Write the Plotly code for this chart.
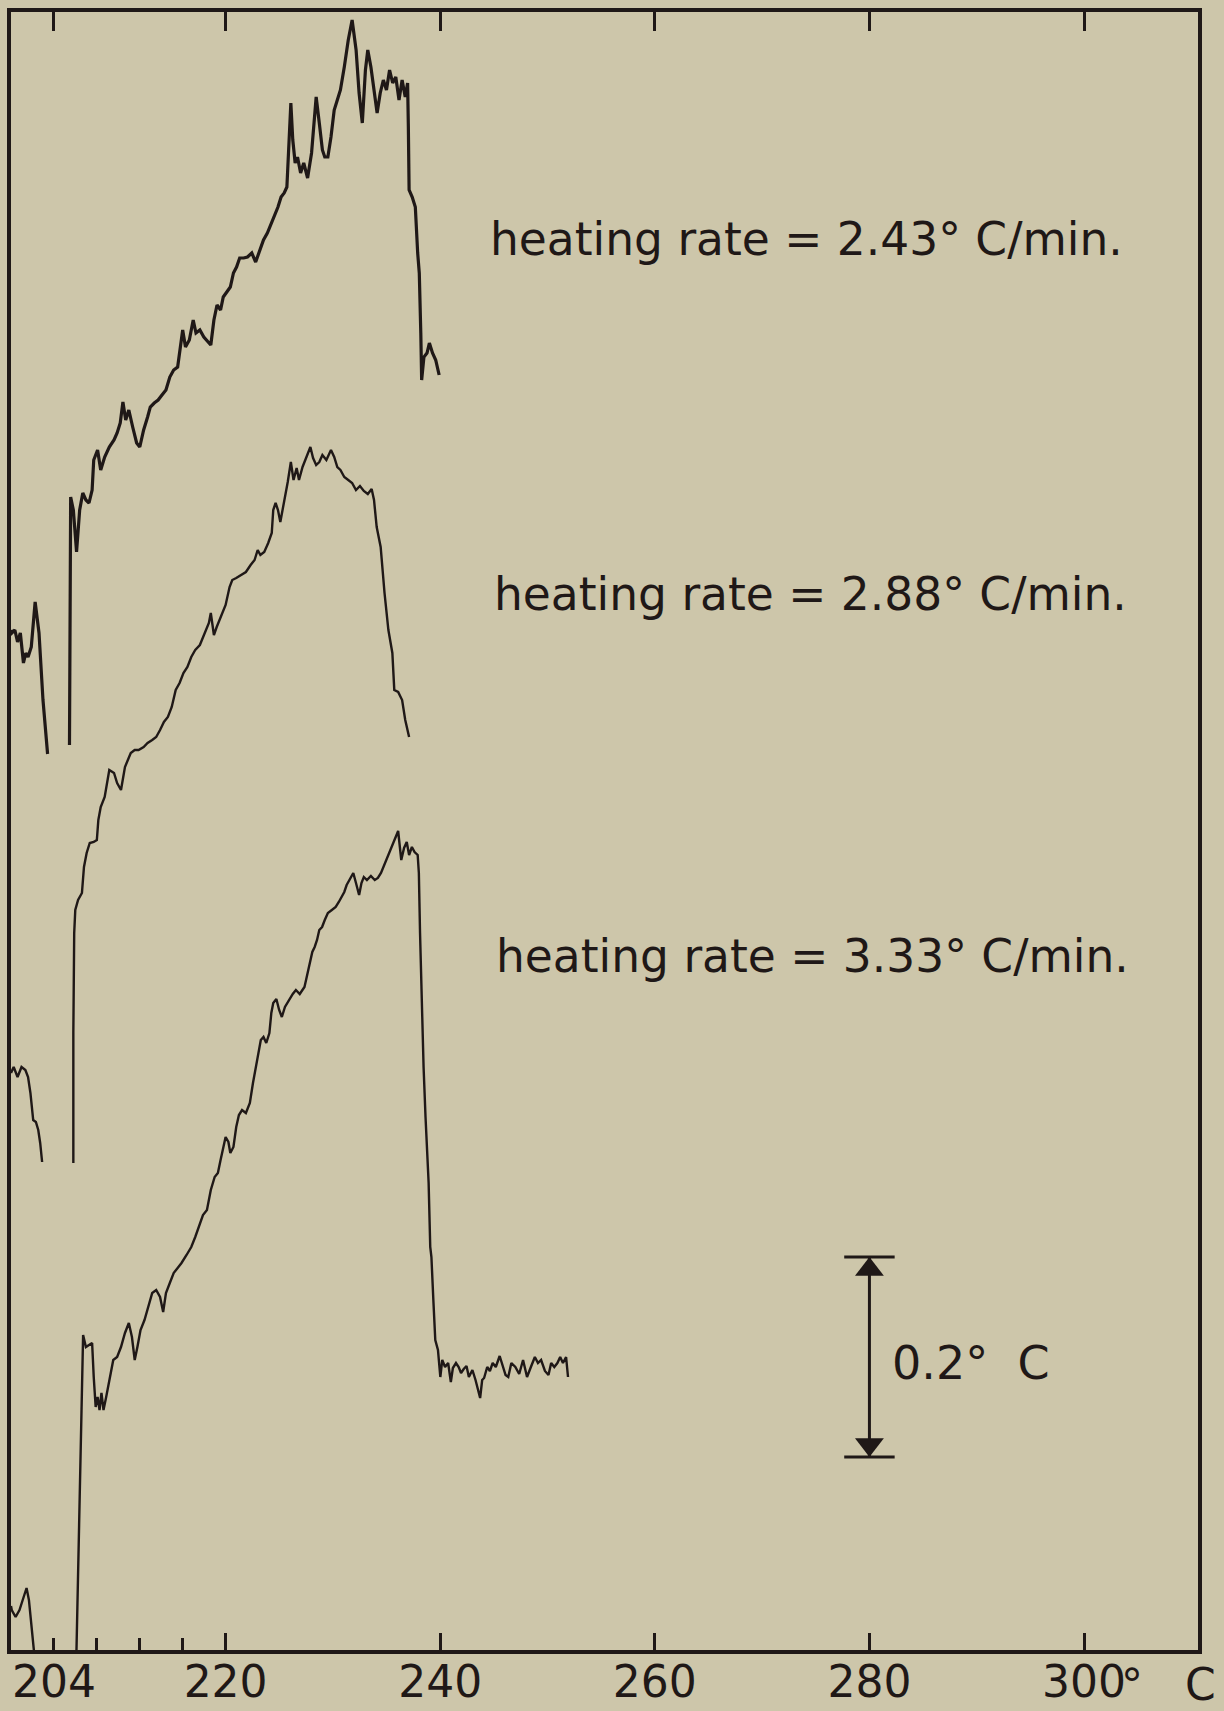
import plotly.graph_objects as go

# ---------------- data (temperature in deg C, differential temperature in deg C, offset traces) -------------
rate_243_x = [200.0, 200.07, 200.36, 200.61, 200.87, 201.16, 201.38, 201.59, 201.89, 202.25, 202.61, 202.98, 203.41, None,
              205.45, 205.56, 205.81, 206.11, 206.40, 206.69, 206.98, 207.27, 207.56, 207.71, 208.07, 208.36, 208.73,
              209.16, 209.60, 209.89, 210.18, 210.43, 210.69, 210.98, 211.34, 211.71, 212.00, 212.36, 212.73, 212.98,
              213.35, 213.71, 214.07, 214.44, 214.80, 215.16, 215.53, 215.78, 216.00, 216.26, 216.62, 216.98, 217.24,
              217.60, 217.97, 218.62, 218.91, 219.20, 219.53, 219.78, 220.08, 220.44, 220.73, 221.02, 221.31, 221.68,
              222.04, 222.44, 222.80, 223.17, 223.53, 223.89, 224.26, 224.62, 224.88, 225.17, 225.46, 225.71, 225.90,
              226.08, 226.26, 226.48, 226.70, 226.99, 227.28, 227.64, 228.01, 228.26, 228.44, 228.73, 229.02, 229.24,
              229.53, 229.82, 230.12, 230.41, 230.70, 231.06, 231.43, 231.79, 232.16, 232.44, 232.74, 233.03, 233.25,
              233.54, 233.83, 234.12, 234.41, 234.70, 234.99, 235.28, 235.57, 235.86, 236.16, 236.45, 236.74, 236.96,
              237.03, 237.10, 237.39, 237.68, 237.90, 238.05, 238.19, 238.27, 238.48, 238.77, 238.99, 239.28, 239.58,
              239.90]
rate_243_y = [1.021, 1.018, 1.021, 1.009, 1.018, 0.988, 0.998, 0.994, 1.004, 1.049, 1.018, 0.951, 0.897, None,
              0.906, 1.154, 1.141, 1.099, 1.141, 1.158, 1.151, 1.148, 1.161, 1.191, 1.201, 1.181, 1.194,
              1.204, 1.211, 1.218, 1.228, 1.249, 1.231, 1.241, 1.224, 1.208, 1.204, 1.221, 1.234, 1.244,
              1.248, 1.251, 1.256, 1.261, 1.274, 1.281, 1.284, 1.304, 1.321, 1.304, 1.311, 1.331, 1.318,
              1.321, 1.314, 1.306, 1.331, 1.346, 1.341, 1.354, 1.358, 1.364, 1.378, 1.384, 1.393, 1.393,
              1.394, 1.398, 1.389, 1.401, 1.411, 1.418, 1.428, 1.436, 1.444, 1.454, 1.458, 1.464, 1.504,
              1.548, 1.511, 1.488, 1.494, 1.478, 1.488, 1.473, 1.498, 1.534, 1.554, 1.528, 1.501, 1.494,
              1.494, 1.514, 1.541, 1.551, 1.561, 1.584, 1.611, 1.631, 1.601, 1.558, 1.528, 1.581, 1.601,
              1.584, 1.561, 1.538, 1.558, 1.571, 1.561, 1.581, 1.568, 1.574, 1.551, 1.571, 1.554, 1.568,
              1.524, 1.461, 1.454, 1.444, 1.398, 1.378, 1.318, 1.271, 1.294, 1.298, 1.308, 1.298, 1.291,
              1.276]

rate_288_x = [200.0, 200.25, 200.61, 200.98, 201.34, 201.59, 201.81, 202.07, 202.32, 202.54, 202.72, 202.90, None,
              205.81, 205.81, 205.89, 205.99, 206.25, 206.43, 206.61, 206.80, 207.05, 207.34, 207.71, 208.00, 208.14,
              208.36, 208.73, 209.16, 209.60, 209.89, 210.25, 210.62, 211.16, 211.53, 211.89, 212.36, 212.73, 213.16,
              213.53, 213.89, 214.25, 214.62, 214.98, 215.35, 215.71, 216.07, 216.44, 216.80, 217.17, 217.60, 218.07,
              218.44, 218.62, 218.91, 219.17, 219.53, 220.00, 220.37, 220.62, 220.99, 221.46, 221.89, 222.33, 222.70,
              222.99, 223.24, 223.60, 223.97, 224.30, 224.44, 224.66, 224.88, 225.10, 225.31, 225.53, 225.79, 226.08,
              226.33, 226.62, 226.84, 227.17, 227.53, 227.90, 228.15, 228.44, 228.73, 229.02, 229.39, 229.82, 230.12,
              230.41, 230.70, 231.06, 231.43, 231.79, 232.15, 232.52, 232.88, 233.25, 233.61, 233.83, 234.08, 234.45,
              234.81, 235.17, 235.54, 235.72, 236.08, 236.45, 236.74, 237.10]
rate_288_y = [0.578, 0.584, 0.574, 0.584, 0.581, 0.574, 0.558, 0.531, 0.529, 0.521, 0.508, 0.489, None,
              0.488, 0.618, 0.718, 0.741, 0.751, 0.754, 0.758, 0.784, 0.798, 0.808, 0.809, 0.811, 0.831,
              0.844, 0.854, 0.881, 0.878, 0.868, 0.861, 0.884, 0.898, 0.901, 0.901, 0.904, 0.908, 0.911,
              0.914, 0.921, 0.929, 0.934, 0.944, 0.961, 0.968, 0.978, 0.984, 0.994, 1.001, 1.006, 1.018,
              1.028, 1.038, 1.016, 1.024, 1.033, 1.046, 1.064, 1.071, 1.073, 1.076, 1.079, 1.086, 1.091,
              1.101, 1.096, 1.099, 1.108, 1.118, 1.141, 1.148, 1.141, 1.129, 1.141, 1.151, 1.169, 1.189,
              1.171, 1.183, 1.171, 1.184, 1.194, 1.204, 1.193, 1.186, 1.189, 1.196, 1.191, 1.201, 1.194,
              1.184, 1.181, 1.174, 1.171, 1.168, 1.161, 1.165, 1.160, 1.157, 1.162, 1.151, 1.124, 1.104,
              1.058, 1.021, 0.998, 0.961, 0.959, 0.951, 0.931, 0.914]

rate_333_x = [200.0, 200.07, 200.43, 200.79, 201.09, 201.45, 201.67, 201.89, 202.14, None,
              206.10, 206.72, 206.98, 207.27, 207.56, 207.71, 207.89, 208.07, 208.25, 208.43, 208.62, 208.87, 209.16,
              209.53, 209.89, 210.25, 210.62, 210.98, 211.27, 211.53, 211.78, 212.07, 212.44, 212.80, 213.16, 213.53,
              213.89, 214.18, 214.44, 214.80, 215.16, 215.53, 215.89, 216.36,
              216.80, 217.17, 217.53, 217.89, 218.26, 218.62, 218.98, 219.28, 219.53, 219.78, 220.00, 220.26, 220.44,
              220.73, 220.99, 221.24, 221.53, 221.89, 222.26, 222.55, 222.80, 223.06, 223.28, 223.53, 223.79, 224.08,
              224.26, 224.44, 224.73, 224.99, 225.24, 225.53, 225.90, 226.26, 226.55, 226.91, 227.35, 227.64, 227.90,
              228.08, 228.30, 228.52, 228.73, 228.99, 229.24, 229.53, 229.90, 230.26, 230.55, 230.81, 231.06, 231.28,
              231.54, 231.90, 232.15, 232.44, 232.66, 232.88, 233.17, 233.54, 233.90, 234.19, 234.48, 234.85, 235.21,
              235.57, 235.86, 236.08, 236.37, 236.63, 236.88, 237.10, 237.36, 237.61, 237.90, 238.01, 238.12, 238.27,
              238.45, 238.63, 238.92, 239.07,
              239.18, 239.36, 239.54, 239.79, 240.01, 240.19, 240.45, 240.74, 240.99, 241.18, 241.47, 241.72, 241.94,
              242.19, 242.45, 242.67, 243.00, 243.29, 243.54, 243.72, 243.91, 244.09, 244.38, 244.63, 244.89, 245.18,
              245.54, 245.83, 246.09, 246.34, 246.63, 247.00, 247.36, 247.72, 248.09, 248.45, 248.82, 249.11, 249.40,
              249.76, 250.09, 250.34, 250.63, 250.92, 251.18, 251.44, 251.73, 251.91]
rate_333_y = [0.045, 0.041, 0.034, 0.041, 0.051, 0.063, 0.051, 0.028, 0.0, None,
              0.0, 0.316, 0.304, 0.306, 0.308, 0.274, 0.244, 0.254, 0.241, 0.258, 0.241, 0.254, 0.271,
              0.291, 0.294, 0.304, 0.318, 0.328, 0.314, 0.291, 0.304, 0.321, 0.331, 0.344, 0.358, 0.361,
              0.354, 0.339, 0.358, 0.368, 0.378, 0.383, 0.388, 0.396,
              0.404, 0.414, 0.424, 0.436, 0.441, 0.461, 0.474, 0.478, 0.491, 0.504, 0.514, 0.509, 0.498,
              0.504, 0.524, 0.536, 0.541, 0.538, 0.548, 0.568, 0.584, 0.598, 0.611, 0.614, 0.608, 0.618,
              0.638, 0.648, 0.652, 0.641, 0.634, 0.644, 0.651, 0.657, 0.661, 0.657, 0.664, 0.678, 0.691,
              0.699, 0.704, 0.711, 0.721, 0.724, 0.731, 0.738, 0.741, 0.744, 0.749, 0.754, 0.759, 0.766,
              0.771, 0.778, 0.768, 0.756, 0.768, 0.774, 0.771, 0.775, 0.771, 0.773, 0.778, 0.788, 0.798,
              0.808, 0.814, 0.820, 0.791, 0.803, 0.809, 0.796, 0.804, 0.799, 0.796, 0.778, 0.718, 0.651,
              0.584, 0.534, 0.468, 0.404,
              0.394, 0.351, 0.311, 0.301, 0.274, 0.291, 0.284, 0.288, 0.269, 0.283, 0.288, 0.284, 0.278,
              0.282, 0.285, 0.274, 0.281, 0.271, 0.261, 0.253, 0.271, 0.273, 0.284, 0.280, 0.288, 0.284,
              0.295, 0.284, 0.276, 0.274, 0.288, 0.284, 0.277, 0.291, 0.274, 0.284, 0.294, 0.288, 0.291,
              0.280, 0.276, 0.288, 0.284, 0.288, 0.294, 0.288, 0.294, 0.274]

curve_labels = ["heating rate = 2.43° C/min.", "heating rate = 2.88° C/min.", "heating rate = 3.33° C/min."]
label_x = [244.45, 244.82, 245.03]
label_y = [1.412, 1.057, 0.695]

tick_vals = [204, 220, 240, 260, 280, 300]
tick_text = ["204", "220", "240", "260", "280", "300"]
major_bottom_ticks = [220, 240, 260, 280, 300]
minor_bottom_ticks = [204, 208, 212, 216]
unit_suffix = "°\u00a0\u00a0\u00a0C"

scale_x = 280.0
scale_low = 0.194
scale_span = 0.2
scale_label = "0.2°\u00a0\u00a0C"

for xs, ys in [(rate_243_x, rate_243_y), (rate_288_x, rate_288_y), (rate_333_x, rate_333_y)]:
    assert len(xs) == len(ys)

# ---------------- styling ----------------
BG = "rgb(205,198,170)"
INK = "#1f1817"
FONT = "DejaVu Sans"
X_RANGE = [200.0, 310.62]
Y_RANGE = [0.001, 1.639]

fig = go.Figure()
for xs, ys, w in [(rate_243_x, rate_243_y, 3.2), (rate_288_x, rate_288_y, 2.4), (rate_333_x, rate_333_y, 2.4)]:
    fig.add_trace(go.Scatter(x=xs, y=ys, mode="lines", line=dict(color=INK, width=w),
                             connectgaps=False, showlegend=False, hoverinfo="skip"))

# placeholder traces so the overlay tick axes get drawn
for ax in ("x2", "x3"):
    fig.add_trace(go.Scatter(x=[None], y=[None], xaxis=ax, yaxis="y", mode="lines",
                             showlegend=False, hoverinfo="skip"))

# scale bar
scale_high = scale_low + scale_span
cap_half = 2.35
fig.add_trace(go.Scatter(x=[scale_x, scale_x], y=[scale_low, scale_high], mode="lines",
                         line=dict(color=INK, width=3), showlegend=False, hoverinfo="skip"))
for yy in (scale_low, scale_high):
    fig.add_trace(go.Scatter(x=[scale_x - cap_half, scale_x + cap_half], y=[yy, yy], mode="lines",
                             line=dict(color=INK, width=3), showlegend=False, hoverinfo="skip"))
arrow_off = 0.0125
fig.add_trace(go.Scatter(x=[scale_x, scale_x], y=[scale_high - arrow_off, scale_low + arrow_off],
                         mode="markers", marker=dict(symbol=["triangle-up", "triangle-down"], size=25, color=INK,
                                                     line=dict(width=0)),
                         showlegend=False, hoverinfo="skip"))

annotations = []
for t, xx, yy in zip(curve_labels, label_x, label_y):
    annotations.append(dict(x=xx, y=yy, xref="x", yref="y", text=t, showarrow=False, xanchor="left",
                            yanchor="middle", font=dict(family=FONT, size=45.5, color=INK)))
annotations.append(dict(x=scale_x + 1.9, y=scale_low + scale_span * 0.47, xref="x", yref="y", text=scale_label,
                        showarrow=False, xanchor="left", yanchor="middle",
                        font=dict(family=FONT, size=46, color=INK)))
annotations.append(dict(x=300, y=0, xref="x", yref="paper", text=unit_suffix, showarrow=False,
                        xanchor="left", yanchor="top", xshift=35, yshift=-7,
                        font=dict(family=FONT, size=44, color=INK)))

fig.update_layout(
    width=1224, height=1711,
    margin=dict(l=11, r=26, t=12, b=61, autoexpand=False),
    paper_bgcolor=BG, plot_bgcolor=BG,
    showlegend=False,
    annotations=annotations,
    xaxis=dict(range=X_RANGE, tickvals=tick_vals, ticktext=tick_text, ticks="", automargin=False,
               ticklabelstandoff=-10,
               showline=True, linewidth=4, linecolor=INK, mirror=True, showgrid=False, zeroline=False,
               tickfont=dict(family=FONT, size=44, color=INK), fixedrange=True),
    xaxis2=dict(range=X_RANGE, overlaying="x", side="bottom", anchor="y", tickvals=major_bottom_ticks,
                ticks="inside", ticklen=17, tickwidth=3, tickcolor=INK, showticklabels=False, automargin=False,
                minor=dict(tickvals=minor_bottom_ticks, ticks="inside", ticklen=12, tickwidth=3, tickcolor=INK),
                showline=False, showgrid=False, zeroline=False),
    xaxis3=dict(range=X_RANGE, overlaying="x", side="top", anchor="y", tickvals=tick_vals,
                ticks="inside", ticklen=19, tickwidth=3, tickcolor=INK, showticklabels=False, automargin=False,
                showline=False, showgrid=False, zeroline=False),
    yaxis=dict(range=Y_RANGE, showline=True, linewidth=4, linecolor=INK, mirror=True, ticks="",
               automargin=False, showticklabels=False, showgrid=False, zeroline=False, fixedrange=True),
)

fig.write_html(
    "out.html",
    config={"displayModeBar": False, "staticPlot": True},
    post_script=("document.body.style.margin='0';document.body.style.padding='0';"
                 "document.body.style.background='rgb(205,198,170)';"),
)
